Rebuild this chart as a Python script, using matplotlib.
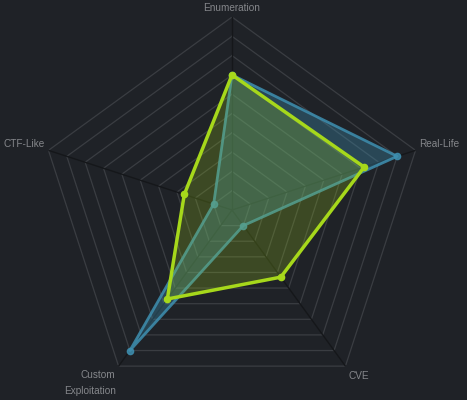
import numpy as np
import matplotlib.pyplot as plt

# radar axes, clockwise from the top
categories = ['Enumeration', 'Real-Life', 'CVE', 'Custom\nExploitation', 'CTF-Like']
series_blue = [70, 90, 10, 90, 10]
series_green = [70, 72, 43, 57, 26]
max_val = 100
n_rings = 10

bg = '#1f2227'
blue = '#3e8fb0'
green = '#a6d81b'

plt.rcParams['font.family'] = ['Liberation Sans', 'DejaVu Sans']

fig = plt.figure(figsize=(4.67, 4.0), dpi=100, facecolor=bg)
ax = fig.add_axes([0.0835, -0.0075, 0.8266, 0.965], projection='polar')
ax.set_facecolor(bg)
ax.set_theta_offset(np.pi / 2)
ax.set_theta_direction(-1)
ax.set_ylim(0, max_val)
ax.grid(False)
ax.spines['polar'].set_visible(False)
ax.set_xticks([])
ax.set_yticks([])

n = len(categories)
angles = np.linspace(0, 2 * np.pi, n, endpoint=False)
ang_closed = np.append(angles, angles[0])

# pentagon rings and spokes
for k in range(1, n_rings + 1):
    r = max_val * k / n_rings
    ax.plot(ang_closed, [r] * (n + 1), color='#3a3d42', lw=0.9, zorder=1)
for a in angles:
    ax.plot([a, a], [0, max_val], color='#15171a', lw=1.0, zorder=1)

def draw(vals, col, lw, fill_alpha, line_alpha, z):
    v = np.append(vals, vals[0])
    ax.fill(ang_closed, v, color=col, alpha=fill_alpha, lw=0, zorder=z)
    ax.plot(ang_closed, v, color=col, lw=lw, alpha=line_alpha, zorder=z + 1)
    ax.plot(angles, vals, 'o', color=col, ms=4.5, alpha=line_alpha, zorder=z + 2)

draw(series_blue, blue, 2.0, 0.35, 0.85, 2)
draw(series_green, green, 2.5, 0.22, 1.0, 5)

# axis names
label_style = [
    ('center', (0, 9)),
    ('left', (4, 6)),
    ('center', (13, -10)),
    ('right', (-3, -17)),
    ('right', (-4, 6)),
]
for a, name, (ha, off) in zip(angles, categories, label_style):
    ax.annotate(name, xy=(a, max_val), xytext=off, textcoords='offset pixels',
                ha=ha, va='center', fontsize=7.2, color='#85878b',
                linespacing=1.75, annotation_clip=False)

fig.savefig('out.png', dpi=100, facecolor=bg)
